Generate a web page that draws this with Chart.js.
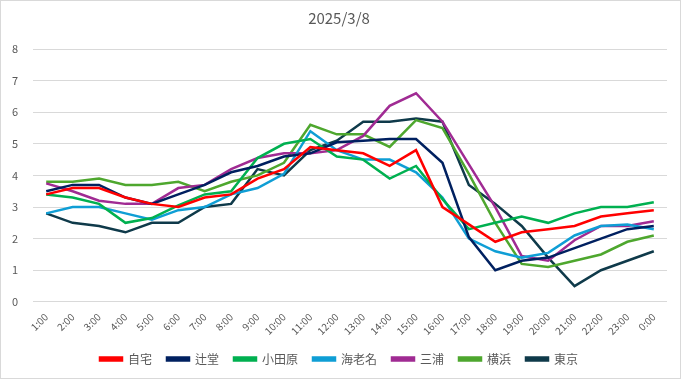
<!DOCTYPE html>
<html>
<head>
<meta charset="utf-8">
<script src="https://cdn.jsdelivr.net/npm/chart.js@4.4.1/dist/chart.umd.min.js"></script>
<style>
  html, body { margin: 0; padding: 0; background: #fff; }
  #wrap { width: 681px; height: 379px; box-sizing: border-box; border: 1px solid #d9d9d9; position: relative; }
  canvas { display: block; }
</style>
</head>
<body>
<div id="wrap"><canvas id="chart" width="679" height="377"></canvas></div>
<script>
// Hourly values, 2025/3/8
const hours = ['1:00','2:00','3:00','4:00','5:00','6:00','7:00','8:00','9:00','10:00','11:00','12:00',
  '13:00','14:00','15:00','16:00','17:00','18:00','19:00','20:00','21:00','22:00','23:00','0:00'];

const jitaku   = [3.4, 3.6, 3.6, 3.3, 3.1, 3.0, 3.3, 3.4, 3.9, 4.2, 4.9, 4.8, 4.7, 4.3, 4.8, 3.0, 2.45, 1.9, 2.2, 2.3, 2.4, 2.7, 2.8, 2.9];
const tsujido  = [3.5, 3.7, 3.7, 3.3, 3.1, 3.4, 3.7, 4.1, 4.3, 4.6, 4.7, 5.05, 5.1, 5.15, 5.15, 4.4, 2.05, 1.0, 1.3, 1.4, 1.7, 2.0, 2.3, 2.4];
const odawara  = [3.4, 3.3, 3.1, 2.5, 2.65, 3.05, 3.4, 3.5, 4.55, 5.0, 5.15, 4.6, 4.5, 3.9, 4.3, 3.25, 2.3, 2.5, 2.7, 2.5, 2.8, 3.0, 3.0, 3.15];
const ebina    = [2.8, 3.0, 3.0, 2.8, 2.6, 2.9, 3.0, 3.4, 3.6, 4.05, 5.4, 4.8, 4.5, 4.5, 4.1, 3.3, 2.0, 1.6, 1.4, 1.55, 2.1, 2.4, 2.45, 2.3];
const miura    = [3.75, 3.5, 3.2, 3.1, 3.1, 3.6, 3.7, 4.2, 4.55, 4.7, 4.7, 4.8, 5.25, 6.2, 6.6, 5.7, 4.35, 3.0, 1.45, 1.3, 1.95, 2.4, 2.4, 2.55];
const yokohama = [3.8, 3.8, 3.9, 3.7, 3.7, 3.8, 3.5, 3.8, 4.0, 4.4, 5.6, 5.3, 5.3, 4.9, 5.75, 5.5, 4.05, 2.5, 1.2, 1.1, 1.3, 1.5, 1.9, 2.1];
const tokyo    = [2.8, 2.5, 2.4, 2.2, 2.5, 2.5, 3.0, 3.1, 4.2, 4.0, 4.8, 5.1, 5.7, 5.7, 5.8, 5.7, 3.7, 3.1, 2.4, 1.4, 0.5, 1.0, 1.3, 1.6];

const seriesNames = ['自宅', '辻堂', '小田原', '海老名', '三浦', '横浜', '東京'];
const seriesData = [jitaku, tsujido, odawara, ebina, miura, yokohama, tokyo];
const seriesColors = ['#ff0000', '#002060', '#00b050', '#0f9ed5', '#a02b93', '#4ea72e', '#0f3a4a'];

const FONT = "'Noto Sans CJK JP', 'Noto Sans', sans-serif";
const GREY = '#595959';

new Chart(document.getElementById('chart'), {
  type: 'line',
  data: {
    labels: hours,
    datasets: seriesNames.map((name, i) => ({
      label: name,
      data: seriesData[i],
      borderColor: seriesColors[i],
      backgroundColor: seriesColors[i],
      borderWidth: 2.5,
      pointRadius: 0,
      tension: 0
    }))
  },
  options: {
    responsive: false,
    animation: false,
    layout: { padding: { left: 10, right: 13, top: 0, bottom: 3 } },
    plugins: {
      title: {
        display: true,
        text: '2025/3/8',
        color: GREY,
        font: { family: FONT, size: 15, weight: 'normal' },
        padding: { top: 8, bottom: 22 }
      },
      legend: {
        position: 'bottom',
        labels: {
          color: GREY,
          font: { family: FONT, size: 12 },
          boxWidth: 22,
          boxHeight: 3,
          padding: 15
        }
      },
      tooltip: { enabled: false }
    },
    scales: {
      x: {
        offset: true,
        grid: { display: false },
        border: { display: false },
        ticks: {
          color: GREY,
          font: { family: FONT, size: 10 },
          maxRotation: 45,
          minRotation: 45,
          padding: 1,
          autoSkip: false
        }
      },
      y: {
        min: 0,
        max: 8,
        afterFit: (scale) => { scale.width = 22; },
        grid: { color: '#d9d9d9', drawTicks: false },
        border: { display: false },
        ticks: {
          stepSize: 1,
          color: GREY,
          font: { family: FONT, size: 11 },
          padding: 15
        }
      }
    }
  }
});
</script>
</body>
</html>
